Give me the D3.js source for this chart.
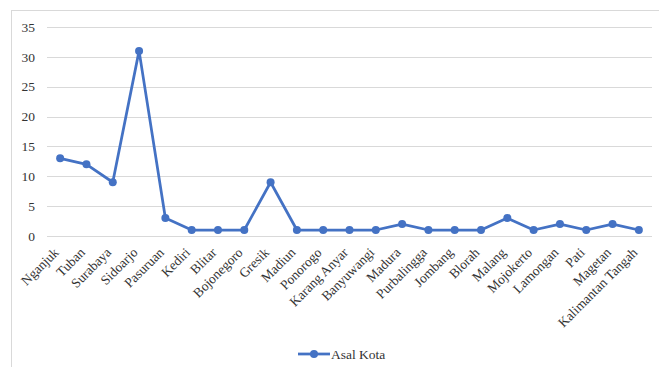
<!DOCTYPE html>
<html><head><meta charset="utf-8">
<script src="https://cdn.jsdelivr.net/npm/d3@7"></script>
<style>body{margin:0;background:#fff;} svg{display:block;} text{font-family:"Liberation Serif","Times New Roman",serif;}</style>
</head><body>
<svg id="c" width="659" height="367"></svg>
<script>
const categories = ["Nganjuk","Tuban","Surabaya","Sidoarjo","Pasuruan","Kediri","Blitar","Bojonegoro","Gresik","Madiun","Ponorogo","Karang Anyar","Banyuwangi","Madura","Purbalingga","Jombang","Blorah","Malang","Mojokerto","Lamongan","Pati","Magetan","Kalimantan Tangah"];
const values = [13,12,9,31,3,1,1,1,9,1,1,1,1,2,1,1,1,3,1,2,1,2,1];
const yTicks = [0,5,10,15,20,25,30,35];
const seriesName = "Asal Kota";

(function(){
const svg = d3.select("#c");
const pL = 47, pR = 652, pT = 27, pB = 236;
const fs = 13.5, tc = "#333333";

svg.append("rect").attr("x",11.5).attr("y",10.5).attr("width",700).attr("height",400)
  .attr("fill","none").attr("stroke","#d9d9d9");

const x = d3.scaleBand().domain(categories).range([pL,pR]);
const y = d3.scaleLinear().domain([0,35]).range([pB,pT]);

svg.append("g").selectAll("line").data(yTicks).join("line")
  .attr("x1",pL).attr("x2",pR)
  .attr("y1",d=>Math.round(y(d))+0.5).attr("y2",d=>Math.round(y(d))+0.5)
  .attr("stroke","#d9d9d9").attr("stroke-width",1);

svg.append("g").selectAll("text").data(yTicks).join("text")
  .attr("x",35).attr("y",d=>y(d)).attr("dy","0.35em")
  .attr("text-anchor","end").attr("font-size",fs).attr("fill",tc)
  .text(d=>d);

const cx = d => x(d) + x.bandwidth()/2;

svg.append("g").selectAll("text").data(categories).join("text")
  .attr("transform",d=>`translate(${cx(d)-4},${250}) rotate(-45)`)
  .attr("text-anchor","end").attr("dy","0.35em")
  .attr("font-size",fs).attr("fill",tc)
  .text(d=>d);

const line = d3.line().x((d,i)=>cx(categories[i])).y(d=>y(d));
svg.append("path").datum(values).attr("d",line)
  .attr("fill","none").attr("stroke","#4472C4").attr("stroke-width",2.75).attr("stroke-linejoin","round");

svg.append("g").selectAll("circle").data(values).join("circle")
  .attr("cx",(d,i)=>cx(categories[i])).attr("cy",d=>y(d)).attr("r",4)
  .attr("fill","#4472C4");

const lg = svg.append("g");
lg.append("line").attr("x1",298).attr("x2",330).attr("y1",354).attr("y2",354)
  .attr("stroke","#4472C4").attr("stroke-width",2.75);
lg.append("circle").attr("cx",314).attr("cy",354).attr("r",4).attr("fill","#4472C4");
lg.append("text").attr("x",331).attr("y",354).attr("dy","0.35em")
  .attr("font-size",fs).attr("fill",tc).text(seriesName);
})();
</script>
</body></html>
